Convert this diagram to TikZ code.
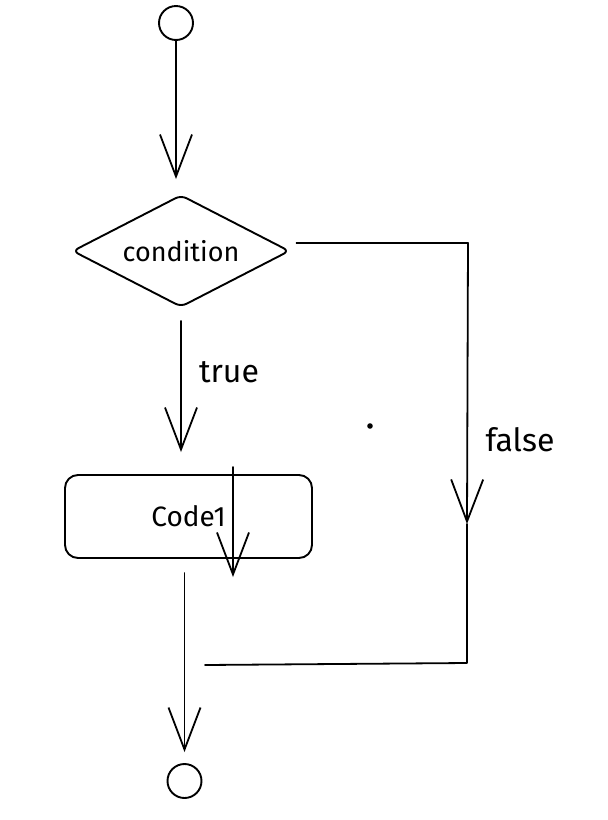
\documentclass[tikz,border=0pt]{standalone}
\usepackage{fontspec}
\setmainfont{Fira Sans}
\usetikzlibrary{arrows.meta,shapes.geometric}

\tikzset{
  flowline/.style={line width=1.8pt, line cap=round, line join=round},
  flowarrow/.style={flowline, -{Straight Barb[length=42pt,width=32pt,line width=1.8pt]}},
  endpoint/.style={circle, draw, line width=1.9pt, minimum size=34pt, inner sep=0pt},
  choice/.style={diamond, aspect=1.94, draw, line width=1.9pt, rounded corners=6pt, minimum width=217pt, minimum height=112pt, inner sep=0pt, font=\fontsize{27}{30}\selectfont},
  codebox/.style={rectangle, draw, rounded corners=13pt, line width=1.9pt, minimum width=247pt, minimum height=83pt, font=\fontsize{28}{31}\selectfont},
  edgelabel/.style={font=\fontsize{32}{35}\selectfont}
}

\begin{document}
\begin{tikzpicture}[x=1pt,y=-1pt]
                \useasboundingbox (0,0) rectangle (608,820);

                % Nodes
                \node[endpoint] (start) at (176,23) {};
                \node[choice] (cond) at (181,251) {condition};
                \node[codebox] (code) at (188.5,516.5) {Code1};
                \node[endpoint] (end) at (184.5,781) {};

                % Start to condition
                \draw[flowarrow, shorten >=15pt] (start.south) -- (start.south |- cond.north);

                % True branch
                \draw[flowarrow] ([yshift=-13pt]cond.south) -- ([yshift=22pt]code.north -| cond.south);
                \node[edgelabel] (truelabel) at (229,372) {true};

                % Stray arrow over the box
                \coordinate (stray1) at (233,467);
                \coordinate (stray2) at (233,577);
                \draw[flowarrow] (stray1) -- (stray2);

                % Box to end
                \draw[flowarrow, shorten <=14pt, shorten >=11pt] (code.south -| end.north) -- (end.north);

                % False branch
                \coordinate (false1) at (468,243);
                \coordinate (false2) at (467,524);
                \coordinate (false3) at (467,663);
                \coordinate (false4) at (205,665);
                \draw[flowline] ([xshift=6pt,yshift=8pt]cond.east) -- (false1);
                \draw[flowarrow] (false1) -- (false2);
                \draw[flowline] (false2) -- (false3) -- (false4);
                \node[edgelabel] (falselabel) at (520,440) {false};

                % Dot
                \fill (370,426) circle (2.8pt);
\end{tikzpicture}
\end{document}
